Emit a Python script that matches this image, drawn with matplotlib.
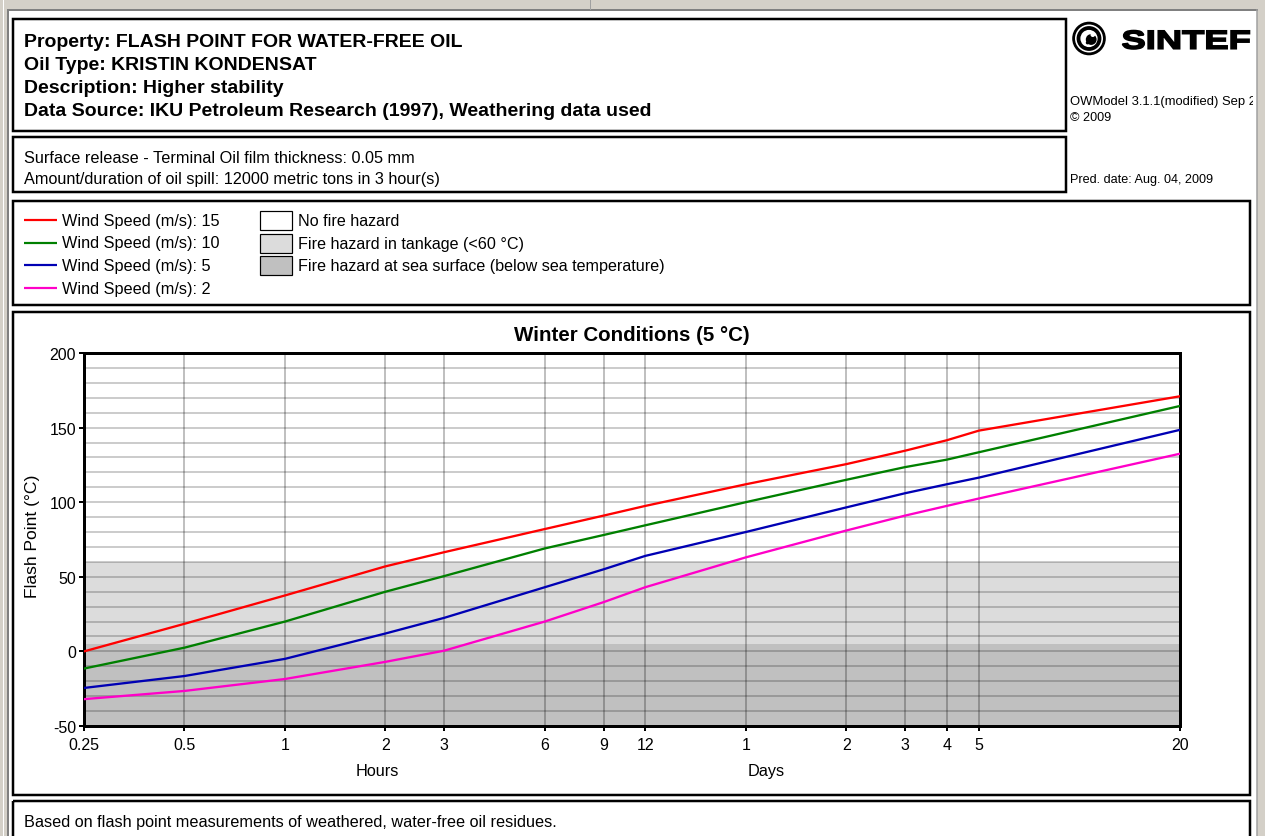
import matplotlib
matplotlib.use("Agg")
import matplotlib.pyplot as plt
from matplotlib.patches import Rectangle, Circle, PathPatch
from matplotlib.textpath import TextPath
from matplotlib.font_manager import FontProperties
from matplotlib.ticker import FixedLocator, FixedFormatter, MultipleLocator, NullLocator
import matplotlib.transforms as mtransforms

# ---- data -------------------------------------------------------------
# time since release, in hours (log axis)
time_hours = [0.25, 0.5, 1, 2, 3, 6, 9, 12, 24, 48, 72, 96, 120, 480]

# flash point of the water-free residue (deg C) per wind speed
flash_ws15 = [0, 18.5, 37.5, 57, 66.5, 82, 91, 97.5, 112, 125.5, 134.5, 141.5, 148, 171]
flash_ws10 = [-11.5, 2.5, 20, 40, 50.5, 69, 78, 84.5, 100, 115, 123.5, 128.5, 133.5, 164.5]
flash_ws5 = [-24.5, -16.5, -5, 12, 22.5, 43, 55, 64, 80, 96.5, 106, 112, 116.5, 148.5]
flash_ws2 = [-32, -26.5, -18.5, -7, 0.5, 20, 33, 43, 63, 81, 91, 97.5, 102.5, 132.5]

wind_speeds = [15, 10, 5, 2]
series = [flash_ws15, flash_ws10, flash_ws5, flash_ws2]
series_colors = ["#ff0000", "#008000", "#0000b4", "#ff00c8"]

tick_hours = [0.25, 0.5, 1, 2, 3, 6, 9, 12, 24, 48, 72, 96, 120, 480]
tick_labels = ["0.25", "0.5", "1", "2", "3", "6", "9", "12",
               "1", "2", "3", "4", "5", "20"]

sea_temperature = 5
tankage_limit = 60

hazard_labels = ["No fire hazard",
                 "Fire hazard in tankage (<60 \u00b0C)",
                 "Fire hazard at sea surface (below sea temperature)"]
hazard_colors = ["#ffffff", "#dcdcdc", "#c0c0c0"]

header_lines = ["Property: FLASH POINT FOR WATER-FREE OIL",
                "Oil Type: KRISTIN KONDENSAT",
                "Description: Higher stability",
                "Data Source: IKU Petroleum Research (1997), Weathering data used"]
scenario_lines = ["Surface release - Terminal Oil film thickness: 0.05 mm",
                  "Amount/duration of oil spill: 12000 metric tons in 3 hour(s)"]

# ---- page layout (pixel coordinates) ----------------------------------
W, H = 1265, 837
plt.rcParams["font.family"] = ["Liberation Sans", "DejaVu Sans"]
plt.rcParams["axes.unicode_minus"] = False


def pt(px):
    return px * 0.72


fig = plt.figure(figsize=(W / 100, H / 100), dpi=100)
fig.patch.set_facecolor("white")
bg = fig.add_axes([0, 0, 1, 1])
bg.set_xlim(0, W)
bg.set_ylim(H, 0)
bg.set_autoscale_on(False)
bg.axis("off")

# window frame
frame_c = "#d4d0c8"
bg.add_patch(Rectangle((0, 0), W, 10, fc=frame_c, ec="none"))
bg.add_patch(Rectangle((0, 0), 8, H, fc=frame_c, ec="none"))
bg.add_patch(Rectangle((1257, 0), W - 1257, H, fc=frame_c, ec="none"))
bg.plot([8, 1257], [11, 11], color="#808080", lw=pt(2))
bg.plot([8, 8], [11, H], color="#808080", lw=pt(2))
bg.plot([1257, 1257], [11, H], color="#a0a0a0", lw=pt(1.5))
bg.plot([3, 3], [0, H], color="#ffffff", lw=pt(1))
bg.plot([590, 590], [0, 10], color="#a0a0a0", lw=pt(1))


def box(x0, y0, x1, y1):
    bg.add_patch(Rectangle((x0, y0), x1 - x0, y1 - y0, fill=False,
                           ec="black", lw=pt(2.5)))


box(13, 20, 1066, 132)
box(13, 138, 1066, 193)
box(13, 202, 1250, 306)
box(13, 313, 1250, 796)
box(13, 802, 1250, 845)

# header texts
for i, s in enumerate(header_lines):
    bg.text(24, 42 + i * 23.2, s, fontsize=pt(19.5), fontweight="bold",
            ha="left", va="center")
for i, s in enumerate(scenario_lines):
    bg.text(24, 158 + i * 21, s, fontsize=pt(16.3), ha="left", va="center")

# logo: emblem + lettering
cx, cy = 1089, 39.5
bg.add_patch(Circle((cx, cy), 16.8, fc="black", ec="none"))
bg.add_patch(Circle((cx, cy), 14.0, fc="white", ec="none"))
bg.add_patch(Circle((cx, cy), 12.4, fc="black", ec="none"))
bg.add_patch(Circle((cx, cy), 8.6, fc="white", ec="none"))
bg.add_patch(Circle((cx + 2.2, cy + 1.0), 5.4, fc="black", ec="none"))
bg.add_patch(Circle((cx + 3.8, cy - 3.8), 2.3, fc="white", ec="none"))
bg.add_patch(Circle((cx - 1.5, cy + 4.2), 1.7, fc="black", ec="none"))

tp = TextPath((0, 0), "SINTEF", size=100,
              prop=FontProperties(family="Liberation Sans", weight="bold"))
ext = tp.get_extents()
tx0, tx1, ty_top, ty_base = 1122.5, 1249.5, 31.5, 50
tr = (mtransforms.Affine2D()
      .translate(-ext.x0, -ext.y0)
      .scale((tx1 - tx0) / ext.width, -(ty_base - ty_top) / ext.height)
      .translate(tx0, ty_base)) + bg.transData
bg.add_patch(PathPatch(tp, fc="black", ec="black", lw=pt(1.6), transform=tr))

# version line is cut off by the right-hand frame
clip = Rectangle((1060, 90), 193, 40, transform=bg.transData)
t = bg.text(1070, 102, "OWModel 3.1.1(modified) Sep 28", fontsize=pt(13),
            ha="left", va="center")
t.set_clip_path(clip)
t.set_clip_on(True)
bg.text(1070, 117.5, "\u00a9 2009", fontsize=pt(12.6), ha="left", va="center")
bg.text(1070, 180, "Pred. date: Aug. 04, 2009", fontsize=pt(12.6),
        ha="left", va="center")

# legend
for i, (ws, c) in enumerate(zip(wind_speeds, series_colors)):
    yy = 221 + i * 22.7
    bg.plot([24, 57], [yy, yy], color=c, lw=pt(2.2), solid_capstyle="butt")
    bg.text(62, yy, f"Wind Speed (m/s): {ws}", fontsize=pt(16.2),
            ha="left", va="center")
for i, (lab, fc) in enumerate(zip(hazard_labels, hazard_colors)):
    yy = 221.5 + i * 22.7
    bg.add_patch(Rectangle((260, yy - 9.5), 32, 19, fc=fc, ec="black",
                           lw=pt(1.2)))
    bg.text(298, yy, lab, fontsize=pt(16.1), ha="left", va="center")

# ---- chart ------------------------------------------------------------
ax_l, ax_r, ax_t, ax_b = 84, 1180, 354, 727
ax = fig.add_axes([ax_l / W, 1 - ax_b / H, (ax_r - ax_l) / W, (ax_b - ax_t) / H])
ax.set_xscale("log")
ax.set_xlim(time_hours[0], time_hours[-1])
ax.set_ylim(-50, 200)

ax.axhspan(-50, sea_temperature, color=hazard_colors[2], lw=0, zorder=0.1)
ax.axhspan(sea_temperature, tankage_limit, color=hazard_colors[1], lw=0, zorder=0.1)

ax.xaxis.set_major_locator(FixedLocator(tick_hours))
ax.xaxis.set_major_formatter(FixedFormatter(tick_labels))
ax.xaxis.set_minor_locator(NullLocator())
ax.yaxis.set_major_locator(MultipleLocator(50))
ax.yaxis.set_minor_locator(MultipleLocator(10))

ax.set_axisbelow(True)
ax.grid(which="both", axis="y", color="black", alpha=0.2, lw=pt(2))
ax.grid(which="major", axis="x", color="black", alpha=0.33, lw=pt(1.5))

ax.tick_params(axis="both", which="major", direction="out", length=pt(5),
               width=pt(2), labelsize=pt(16), colors="black")
ax.tick_params(axis="y", which="major", pad=pt(3))
ax.tick_params(axis="x", which="major", pad=pt(6))
ax.tick_params(axis="both", which="minor", length=0)
for sp in ax.spines.values():
    sp.set_linewidth(pt(3))
    sp.set_color("black")

for vals, c in zip(series, series_colors):
    ax.plot(time_hours, vals, color=c, lw=pt(2.3), zorder=3,
            solid_joinstyle="round", clip_on=True)

bg.text((ax_l + ax_r) / 2, 335, "Winter Conditions (5 \u00b0C)", fontsize=pt(20.5),
        fontweight="bold", ha="center", va="center")
bg.text(33, 536, "Flash Point (\u00b0C)", fontsize=pt(17.5), rotation=90,
        ha="center", va="center")
bg.text(377, 772, "Hours", fontsize=pt(16.3), ha="center", va="center")
bg.text(766, 772, "Days", fontsize=pt(16.3), ha="center", va="center")

bg.text(24, 823, "Based on flash point measurements of weathered, water-free oil residues.",
        fontsize=pt(16.3), ha="left", va="center")

fig.savefig("out.png", dpi=100, facecolor="white")
